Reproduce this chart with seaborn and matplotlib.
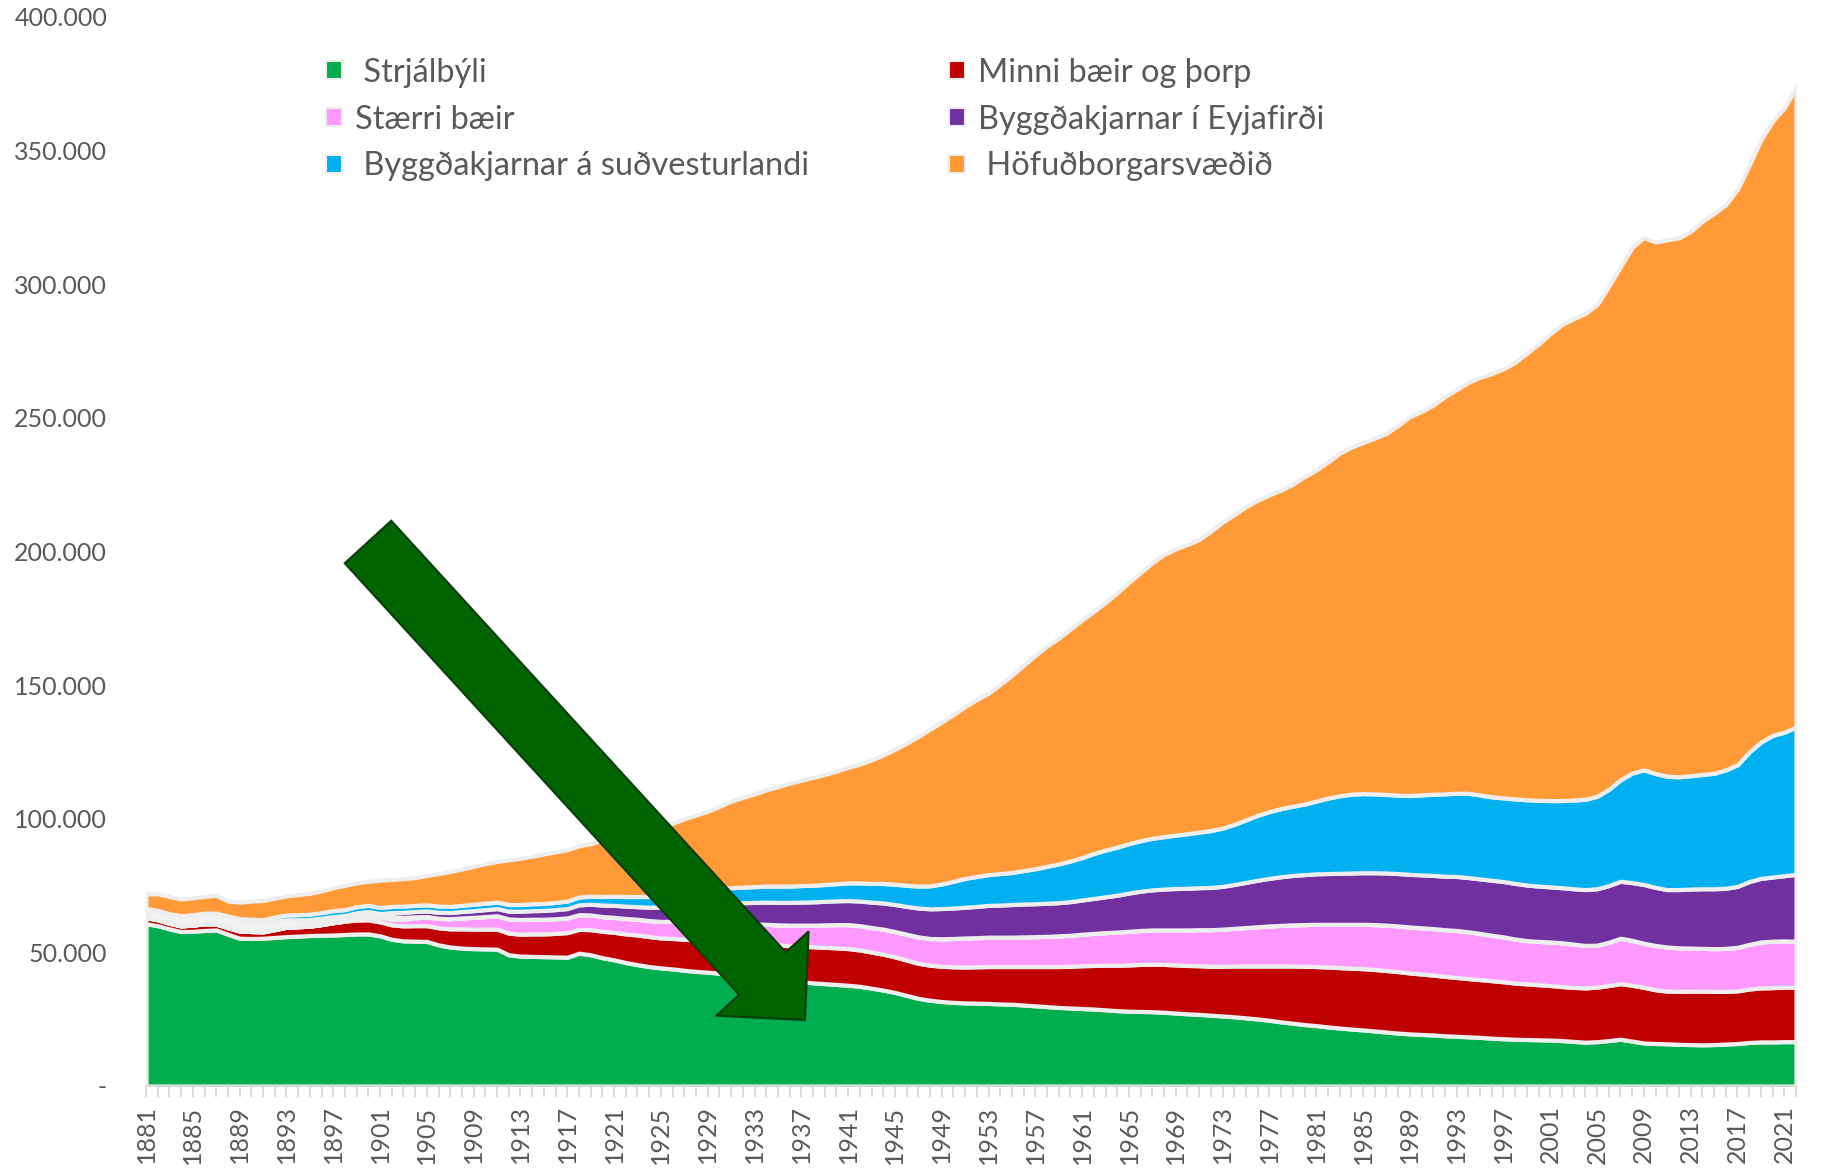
import matplotlib
matplotlib.use("Agg")
import matplotlib.pyplot as plt
import seaborn as sns
from matplotlib.patches import Patch, FancyArrow
from matplotlib.ticker import FuncFormatter
from matplotlib.transforms import IdentityTransform

# ================= DATA (thousands of inhabitants) =================
years = list(range(1881, 2023))

strjalbyli = [
    60.7, 60.0, 58.8, 57.8, 57.9, 58.2, 58.4, 56.8, 55.3, 55.2,
    55.3, 55.6, 55.9, 56.1, 56.3, 56.4, 56.5, 56.7, 56.9, 56.9,
    56.2, 54.9, 54.3, 54.2, 54.1, 52.8, 52.0, 51.6, 51.4, 51.3,
    51.2, 49.1, 48.6, 48.5, 48.4, 48.3, 48.2, 49.7, 49.1, 48.0,
    47.2, 46.2, 45.4, 44.7, 44.2, 43.8, 43.3, 42.9, 42.6, 42.2,
    41.7, 41.2, 40.7, 40.2, 39.7, 39.3, 39.0, 38.6, 38.3, 38.0,
    37.7, 37.3, 36.6, 35.9, 35.0, 33.9, 32.8, 32.1, 31.6, 31.3,
    31.1, 31.0, 30.9, 30.7, 30.6, 30.3, 30.0, 29.7, 29.4, 29.2,
    29.0, 28.8, 28.5, 28.2, 28.0, 27.9, 27.8, 27.6, 27.3, 27.0,
    26.8, 26.5, 26.2, 25.9, 25.5, 25.1, 24.6, 24.0, 23.5, 23.0,
    22.6, 22.1, 21.7, 21.3, 21.0, 20.6, 20.2, 19.8, 19.5, 19.3,
    19.1, 18.8, 18.6, 18.4, 18.2, 17.9, 17.7, 17.5, 17.4, 17.3,
    17.2, 17.0, 16.7, 16.4, 16.6, 17.0, 17.5, 16.8, 16.1, 15.9,
    15.8, 15.6, 15.5, 15.4, 15.5, 15.7, 15.9, 16.3, 16.5, 16.5,
    16.6, 16.6,
]

minni_baeir = [
    2.3, 2.2, 2.1, 2.1, 2.3, 2.5, 2.2, 2.4, 2.7, 2.6,
    2.4, 2.9, 3.5, 3.5, 3.5, 4.0, 4.6, 5.0, 5.2, 5.3,
    5.2, 5.4, 5.6, 5.8, 5.9, 6.4, 6.8, 7.2, 7.3, 7.4,
    7.5, 8.1, 8.2, 8.4, 8.5, 8.8, 9.2, 8.9, 9.4, 9.9,
    10.3, 10.7, 11.1, 11.2, 11.2, 11.4, 11.6, 11.8, 12.0, 12.2,
    12.4, 12.6, 12.8, 13.0, 13.1, 13.2, 13.3, 13.5, 13.6, 13.7,
    13.7, 13.6, 13.5, 13.4, 13.3, 13.2, 13.1, 13.1, 13.2, 13.3,
    13.4, 13.6, 13.8, 14.0, 14.1, 14.4, 14.7, 15.0, 15.3, 15.6,
    16.0, 16.3, 16.7, 17.0, 17.3, 17.6, 17.8, 17.9, 18.0, 18.1,
    18.2, 18.3, 18.6, 19.0, 19.4, 19.8, 20.3, 20.9, 21.4, 21.8,
    22.1, 22.4, 22.6, 22.8, 22.9, 23.0, 23.0, 23.0, 22.8, 22.6,
    22.4, 22.2, 22.0, 21.8, 21.6, 21.5, 21.3, 21.0, 20.8, 20.6,
    20.4, 20.2, 20.2, 20.3, 20.4, 20.6, 20.8, 20.9, 20.8, 20.1,
    19.7, 19.8, 20.0, 20.1, 19.9, 19.7, 19.7, 20.0, 20.2, 20.3,
    20.4, 20.4,
]

staerri_baeir = [
    0, 0, 0, 0, 0, 0, 0, 0, 0, 0,
    0, 0, 0, 0, 0, 0, 0, 0, 0.8, 1.5,
    1.8, 2.1, 2.5, 2.9, 3.2, 3.5, 3.8, 4.1, 4.4, 4.7,
    5.0, 5.3, 5.5, 5.5, 5.5, 5.5, 5.5, 5.5, 5.5, 5.5,
    5.6, 5.8, 5.9, 6.0, 6.2, 6.4, 6.5, 6.7, 6.8, 6.9,
    7.0, 7.1, 7.2, 7.3, 7.5, 7.7, 7.9, 8.1, 8.4, 8.7,
    9.0, 9.1, 9.2, 9.4, 9.5, 9.7, 9.9, 10.0, 10.3, 10.6,
    10.9, 10.9, 11.0, 11.0, 11.0, 11.1, 11.2, 11.3, 11.5, 11.6,
    11.8, 12.0, 12.2, 12.4, 12.6, 12.7, 12.8, 12.9, 13.1, 13.3,
    13.5, 13.7, 13.9, 14.1, 14.4, 14.7, 15.0, 15.2, 15.4, 15.6,
    15.8, 16.0, 16.2, 16.4, 16.6, 16.8, 17.0, 17.1, 17.2, 17.3,
    17.4, 17.5, 17.6, 17.5, 17.3, 17.0, 16.8, 16.5, 16.2, 16.2,
    16.3, 16.4, 16.2, 15.9, 15.7, 16.2, 17.0, 16.8, 16.5, 16.6,
    16.5, 16.3, 16.1, 16.0, 16.0, 16.1, 16.3, 16.7, 17.2, 17.4,
    17.3, 17.2,
]

# unlabelled light grey layer visible in the early years
othekkt = [
    3.4, 3.5, 3.6, 3.8, 3.9, 4.0, 4.1, 4.4, 4.6, 4.6,
    4.5, 3.2, 2.8, 2.6, 2.5, 2.4, 2.3, 2.1, 1.9, 1.6,
    1.3, 1.0, 0.7, 0.4, 0.2, 0.1,
] + [0] * 116

eyjafjordur = [
    0, 0, 0, 0, 0, 0, 0, 0, 0, 0,
    0, 0, 0, 0, 0, 0, 0, 0, 0, 0,
    0, 1.5, 1.9, 2.0, 2.1, 2.2, 2.3, 2.4, 2.5, 2.6,
    2.7, 2.9, 3.1, 3.2, 3.3, 3.4, 3.5, 3.7, 4.0, 4.3,
    4.5, 4.6, 4.7, 5.0, 5.3, 5.6, 5.9, 6.3, 6.7, 7.1,
    7.4, 7.7, 8.0, 8.3, 8.4, 8.5, 8.6, 8.7, 8.8, 8.9,
    9.0, 9.2, 9.5, 9.8, 10.1, 10.4, 10.8, 11.1, 11.3, 11.4,
    11.5, 11.7, 11.9, 12.0, 12.2, 12.3, 12.3, 12.4, 12.4, 12.6,
    12.8, 13.1, 13.4, 13.8, 14.3, 14.7, 15.0, 15.3, 15.5, 15.6,
    15.7, 15.8, 16.0, 16.4, 16.9, 17.4, 17.8, 18.2, 18.5, 18.7,
    18.9, 19.0, 19.1, 19.2, 19.3, 19.4, 19.5, 19.6, 19.7, 19.8,
    19.9, 20.0, 20.2, 20.3, 20.4, 20.6, 20.7, 20.8, 20.8, 20.7,
    20.6, 20.6, 20.7, 20.9, 21.1, 21.2, 21.3, 21.6, 22.0, 21.7,
    21.5, 21.8, 22.1, 22.3, 22.4, 22.5, 22.8, 23.5, 23.8, 24.0,
    24.4, 25.0,
]

sudvesturland = [
    0, 0, 0, 0, 0, 0, 0, 0, 0, 0,
    0, 1.6, 1.8, 1.9, 2.0, 2.1, 2.2, 2.2, 2.3, 2.3,
    2.3, 2.3, 2.3, 2.3, 2.3, 2.3, 2.3, 2.3, 2.4, 2.4,
    2.4, 2.5, 2.5, 2.6, 2.6, 2.7, 2.8, 2.9, 3.0, 3.2,
    3.4, 3.6, 3.8, 4.0, 4.2, 4.6, 4.8, 5.0, 5.3, 5.5,
    5.7, 5.8, 5.9, 6.0, 6.1, 6.1, 6.2, 6.2, 6.3, 6.4,
    6.6, 6.8, 7.0, 7.3, 7.6, 7.9, 8.2, 8.6, 9.2, 10.0,
    10.8, 11.2, 11.5, 11.8, 12.0, 12.5, 13.1, 13.8, 14.5, 15.2,
    15.9, 16.8, 17.5, 18.0, 18.5, 18.9, 19.3, 19.6, 20.0, 20.4,
    20.8, 21.3, 21.8, 22.5, 23.4, 24.3, 25.0, 25.5, 25.9, 26.4,
    27.2, 28.2, 29.0, 29.5, 29.6, 29.5, 29.4, 29.3, 29.5, 29.9,
    30.4, 30.8, 31.2, 31.5, 31.4, 31.2, 31.3, 31.6, 31.9, 32.1,
    32.3, 32.6, 33.2, 33.8, 34.6, 36.0, 38.0, 41.0, 42.9, 42.6,
    42.4, 42.2, 42.4, 42.8, 43.2, 44.3, 45.5, 48.5, 51.0, 53.0,
    53.7, 55.1,
]

hofudborg = [
    5.5, 6.2, 6.4, 6.3, 6.3, 6.3, 6.7, 5.6, 6.2, 6.8,
    7.2, 7.0, 7.2, 7.5, 7.8, 8.1, 8.6, 9.1, 8.9, 9.0,
    10.2, 10.1, 10.3, 10.4, 11.0, 12.2, 13.1, 13.6, 14.2, 14.8,
    15.2, 16.7, 17.3, 17.8, 18.5, 18.9, 19.2, 19.2, 19.7, 21.1,
    21.5, 22.6, 23.6, 24.6, 25.7, 26.5, 27.9, 28.7, 29.4, 30.7,
    32.4, 33.6, 34.7, 36.0, 37.2, 38.5, 39.4, 40.4, 41.2, 42.1,
    43.3, 44.4, 46.2, 48.1, 50.5, 53.2, 56.0, 58.6, 60.6, 62.4,
    64.3, 66.2, 67.9, 70.8, 73.8, 76.9, 79.9, 82.4, 84.5, 86.8,
    88.9, 90.6, 92.7, 95.2, 97.8, 100.4, 103.1, 105.6, 107.1, 108.2,
    109.5, 112.0, 114.5, 115.9, 117.2, 117.9, 118.5, 119.2, 120.5, 122.5,
    123.9, 125.8, 128.2, 129.8, 131.4, 133.1, 135.1, 138.4, 141.8, 143.5,
    145.6, 148.7, 151.0, 153.8, 156.3, 158.4, 160.6, 163.4, 167.1, 170.7,
    174.7, 178.1, 180.1, 181.8, 184.0, 188.2, 192.0, 196.7, 199.2, 198.9,
    200.7, 201.7, 203.7, 207.0, 209.5, 211.5, 215.3, 219.5, 225.3, 229.8,
    233.6, 239.2,
]

labels = [
    " Strjálbýli",
    "Minni bæir og þorp",
    "Stærri bæir",
    "Byggðakjarnar í Eyjafirði",
    " Byggðakjarnar á suðvesturlandi",
    " Höfuðborgarsvæðið",
]
colors = ["#00AD4F", "#C00000", "#FF99FF", "#7030A0", "#00B0F0", "#FF9A36"]
GREY_FILL = "#F2F2F2"
EDGE = "#EEEEEE"
TEXT = "#595959"

# ================= STYLE =================
sns.set_theme(style="white")
plt.rcParams["font.family"] = ["Lato", "DejaVu Sans"]

W, H = 1823, 1169
fig = plt.figure(figsize=(W / 100, H / 100), dpi=100)
ax = fig.add_axes([146 / W, 1 - 1086 / H, 1650 / W, 1069 / H])

# ================= STACKED AREAS =================
ax.stackplot(
    years,
    strjalbyli, minni_baeir, staerri_baeir, othekkt,
    eyjafjordur, sudvesturland, hofudborg,
    colors=[colors[0], colors[1], colors[2], GREY_FILL,
            colors[3], colors[4], colors[5]],
    edgecolor=EDGE, linewidth=3.0, joinstyle="round",
)

# ================= AXES =================
ax.set_xlim(1881, 2022)
ax.set_ylim(0, 400)
ax.set_yticks(range(0, 401, 50))
ax.yaxis.set_major_formatter(
    FuncFormatter(lambda v, _: "-" if v == 0 else f"{int(v)}.000"))
ax.tick_params(axis="y", length=0, pad=28, labelsize=18, labelcolor=TEXT)

ax.set_xticks(years)
ax.set_xticklabels([str(y) if (y - 1881) % 4 == 0 else "" for y in years],
                   rotation=90)
ax.tick_params(axis="x", length=8, width=1.3, color="#D9D9D9", pad=6,
               labelsize=18, labelcolor=TEXT, bottom=True)

sns.despine(ax=ax, left=True)
ax.spines["bottom"].set_color("#D9D9D9")
ax.spines["bottom"].set_linewidth(1.5)
ax.grid(False)

# ================= LEGEND =================
order = [0, 2, 4, 1, 3, 5]   # column-major fill
handles = [Patch(facecolor=colors[i], edgecolor=EDGE, linewidth=1.5,
                 label=labels[i]) for i in order]
ax.legend(handles=handles, ncol=2, loc="upper left",
          bbox_to_anchor=(0.109, 0.962), frameon=False, fontsize=23.4,
          handlelength=0.5, handleheight=0.5, handletextpad=0.4,
          labelspacing=0.52, columnspacing=4.3, borderpad=0,
          borderaxespad=0, labelcolor=TEXT)

# ================= ARROW =================
arrow = FancyArrow(368, H - 542, 437, -(1020 - 542), width=63,
                   head_width=125, head_length=63,
                   length_includes_head=True,
                   facecolor="#006400", edgecolor="#0A3D0A", linewidth=1.5,
                   transform=IdentityTransform(), zorder=10)
fig.add_artist(arrow)

fig.savefig("out.png", dpi=100)
plt.close(fig)
